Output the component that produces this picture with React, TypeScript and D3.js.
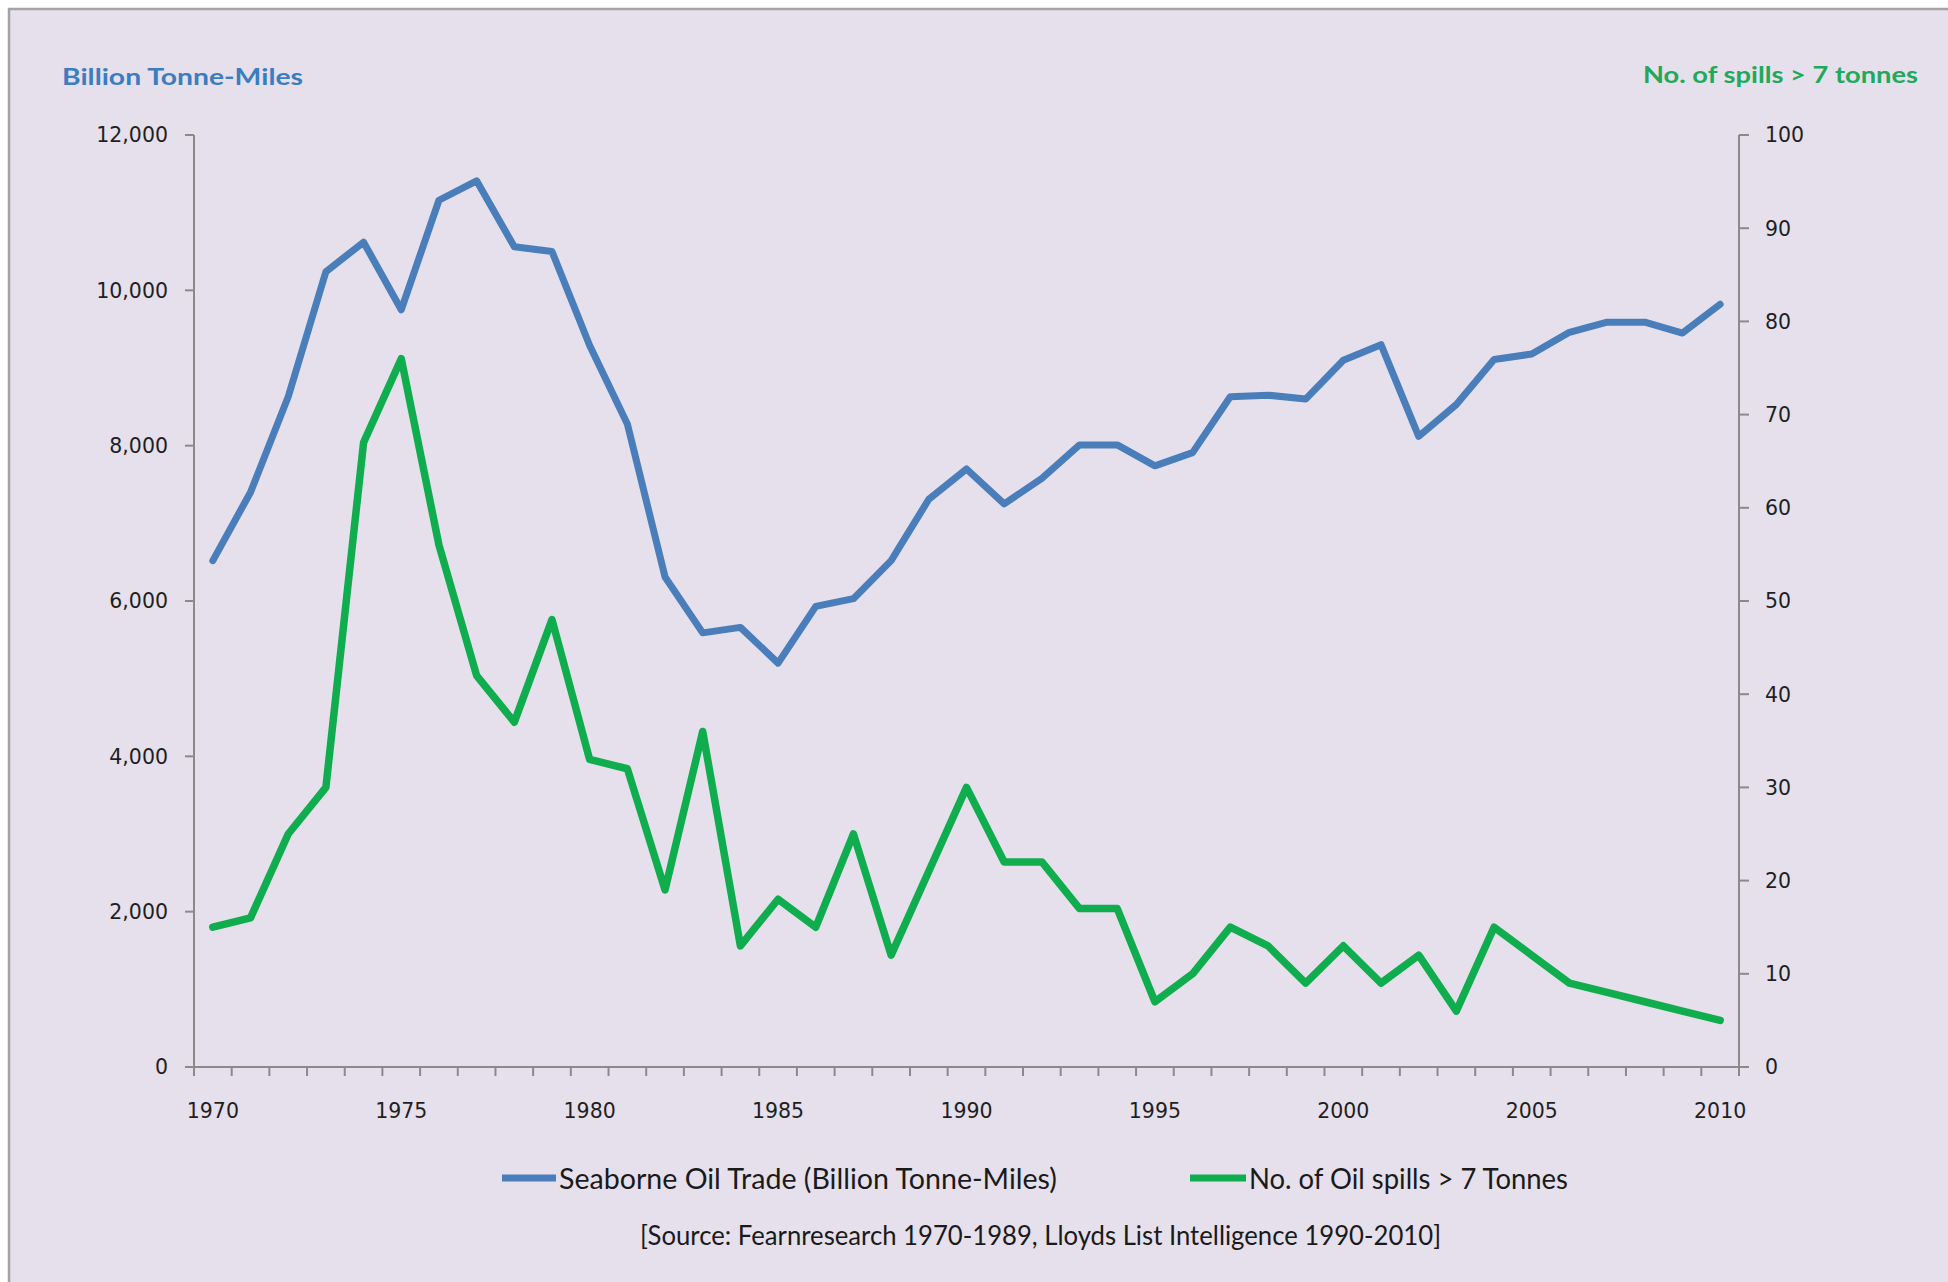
import React from "react";
import * as d3 from "d3";

const years: number[] = d3.range(1970, 2011);
const seaborneTrade: number[] = [
  6520, 7400, 8630, 10240, 10620, 9750, 11160, 11410, 10560, 10500,
  9290, 8280, 6310, 5590, 5660, 5200, 5930, 6030, 6520, 7310,
  7700, 7250, 7580, 8010, 8010, 7740, 7910, 8630, 8650, 8600,
  9100, 9300, 8120, 8530, 9110, 9180, 9460, 9590, 9590, 9450, 9820,
];
const oilSpills: number[] = [
  15, 16, 25, 30, 67, 76, 56, 42, 37, 48,
  33, 32, 19, 36, 13, 18, 15, 25, 12, 21,
  30, 22, 22, 17, 17, 7, 10, 15, 13, 9,
  13, 9, 12, 6, 15, 12, 9, 8, 7, 6, 5,
];
const leftTicks: number[] = [0, 2000, 4000, 6000, 8000, 10000, 12000];
const rightTicks: number[] = [0, 10, 20, 30, 40, 50, 60, 70, 80, 90, 100];
const yearLabels: number[] = [1970, 1975, 1980, 1985, 1990, 1995, 2000, 2005, 2010];

const W = 1948;
const H = 1282;
const plot = { left: 194, right: 1739, top: 135, bottom: 1067 };

const BLUE = "#4a7ebb";
const GREEN = "#0fad4e";
const AXIS = "#8a8a8a";
const TEXT = "#1f1f1f";
const calibri = "Lato, 'Open Sans', 'DejaVu Sans', sans-serif";
const tickFont = "'DejaVu Sans', Verdana, sans-serif";

export default function App() {
  const x = d3.scaleBand<number>().domain(years).range([plot.left, plot.right]).padding(0);
  const cx = (yr: number) => (x(yr) as number) + x.bandwidth() / 2;
  const yL = d3.scaleLinear().domain([0, 12000]).range([plot.bottom, plot.top]);
  const yR = d3.scaleLinear().domain([0, 100]).range([plot.bottom, plot.top]);

  const blueLine = d3
    .line<number>()
    .x((_, i) => cx(years[i]))
    .y((d) => yL(d))(seaborneTrade) as string;
  const greenLine = d3
    .line<number>()
    .x((_, i) => cx(years[i]))
    .y((d) => yR(d))(oilSpills) as string;

  const boundaries = d3.range(0, years.length + 1).map((k) => plot.left + k * x.bandwidth());
  const fmt = d3.format(",");

  return (
    <svg
      width={W}
      height={H}
      viewBox={`0 0 ${W} ${H}`}
      style={{ position: "absolute", left: 0, top: 0, display: "block" }}
    >
      <rect x={0} y={0} width={W} height={H} fill="#ffffff" />
      <rect x={9} y={9} width={W + 20} height={H + 20} fill="#e5e0ec" stroke="#a3a3a3" strokeWidth={2.5} />

      {/* axis titles */}
      <text
        x={62}
        y={85}
        fontFamily={calibri}
        fontWeight={700}
        fontSize={23}
        fill="#3b7dbf"
        textLength={241}
        lengthAdjust="spacingAndGlyphs"
      >
        Billion Tonne-Miles
      </text>
      <text
        x={1643}
        y={83}
        fontFamily={calibri}
        fontWeight={700}
        fontSize={23}
        fill="#22a85a"
        textLength={275}
        lengthAdjust="spacingAndGlyphs"
      >
        No. of spills &gt; 7 tonnes
      </text>

      {/* left axis */}
      <line x1={plot.left} x2={plot.left} y1={plot.top} y2={plot.bottom} stroke={AXIS} strokeWidth={2} />
      {leftTicks.map((t) => (
        <g key={"l" + t}>
          <line x1={plot.left - 9} x2={plot.left} y1={yL(t)} y2={yL(t)} stroke={AXIS} strokeWidth={2} />
          <text
            x={168}
            y={yL(t)}
            dy="0.36em"
            textAnchor="end"
            fontFamily={tickFont}
            fontSize={20.5}
            fill={TEXT}
          >
            {fmt(t)}
          </text>
        </g>
      ))}

      {/* right axis */}
      <line x1={plot.right} x2={plot.right} y1={plot.top} y2={plot.bottom} stroke={AXIS} strokeWidth={2} />
      {rightTicks.map((t) => (
        <g key={"r" + t}>
          <line x1={plot.right} x2={plot.right + 10} y1={yR(t)} y2={yR(t)} stroke={AXIS} strokeWidth={2} />
          <text
            x={1765}
            y={yR(t)}
            dy="0.36em"
            textAnchor="start"
            fontFamily={tickFont}
            fontSize={20.5}
            fill={TEXT}
          >
            {t}
          </text>
        </g>
      ))}

      {/* bottom axis */}
      <line x1={plot.left - 9} x2={plot.right + 10} y1={plot.bottom} y2={plot.bottom} stroke={AXIS} strokeWidth={2} />
      {boundaries.map((bx, i) => (
        <line key={"b" + i} x1={bx} x2={bx} y1={plot.bottom} y2={plot.bottom + 9} stroke={AXIS} strokeWidth={2} />
      ))}
      {yearLabels.map((yr) => (
        <text
          key={"y" + yr}
          x={cx(yr)}
          y={1118}
          textAnchor="middle"
          fontFamily={tickFont}
          fontSize={20.5}
          fill={TEXT}
        >
          {yr}
        </text>
      ))}

      {/* series */}
      <path d={blueLine} fill="none" stroke={BLUE} strokeWidth={7} strokeLinejoin="round" strokeLinecap="round" />
      <path d={greenLine} fill="none" stroke={GREEN} strokeWidth={7.5} strokeLinejoin="round" strokeLinecap="round" />

      {/* legend */}
      <line x1={502} x2={556} y1={1178} y2={1178} stroke={BLUE} strokeWidth={7} />
      <text
        x={559}
        y={1189}
        fontFamily={calibri}
        fontSize={29}
        fill="#1a1a1a"
        textLength={498}
        lengthAdjust="spacingAndGlyphs"
      >
        Seaborne Oil Trade (Billion Tonne-Miles)
      </text>
      <line x1={1190} x2={1246} y1={1178} y2={1178} stroke={GREEN} strokeWidth={7} />
      <text
        x={1249}
        y={1189}
        fontFamily={calibri}
        fontSize={29}
        fill="#1a1a1a"
        textLength={319}
        lengthAdjust="spacingAndGlyphs"
      >
        No. of Oil spills &gt; 7 Tonnes
      </text>
      <text
        x={640}
        y={1245}
        fontFamily={calibri}
        fontSize={27}
        fill="#1a1a1a"
        textLength={801}
        lengthAdjust="spacingAndGlyphs"
      >
        [Source: Fearnresearch 1970-1989, Lloyds List Intelligence 1990-2010]
      </text>
    </svg>
  );
}
